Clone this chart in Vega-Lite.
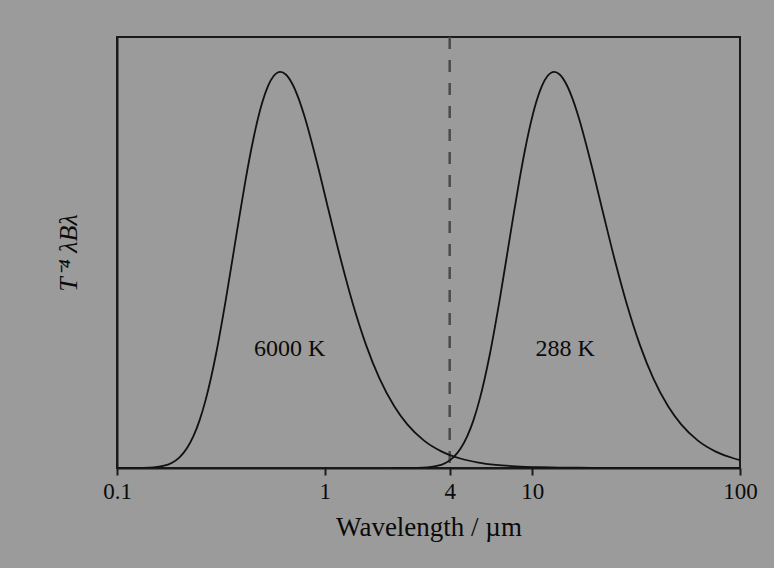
{
  "$schema": "https://vega.github.io/schema/vega-lite/v6.json",
  "width": 623,
  "height": 431,
  "autosize": {"type": "none"},
  "padding": {"left": 117, "top": 37, "right": 34, "bottom": 100},
  "background": "#9b9b9b",
  "config": {
    "view": {"stroke": "#1a1a1a", "strokeWidth": 2},
    "font": "Liberation Serif",
    "axis": {"grid": false, "domainColor": "#1a1a1a", "domainWidth": 2, "tickColor": "#1a1a1a", "tickWidth": 2, "labelColor": "#0a0a0a", "titleColor": "#0a0a0a", "labelFont": "Liberation Serif", "titleFont": "Liberation Serif", "titleFontWeight": "normal"}
  },
  "datasets": {
    "curves": [
      {"lam": 0.1, "v": 0.0000027, "T": "6000 K"},
      {"lam": 0.11667, "v": 0.0000442, "T": "6000 K"},
      {"lam": 0.13333, "v": 0.000338, "T": "6000 K"},
      {"lam": 0.15, "v": 0.001558, "T": "6000 K"},
      {"lam": 0.16667, "v": 0.005058, "T": "6000 K"},
      {"lam": 0.18333, "v": 0.01278, "T": "6000 K"},
      {"lam": 0.2, "v": 0.02683, "T": "6000 K"},
      {"lam": 0.21667, "v": 0.04898, "T": "6000 K"},
      {"lam": 0.23333, "v": 0.0803, "T": "6000 K"},
      {"lam": 0.25, "v": 0.1209, "T": "6000 K"},
      {"lam": 0.26667, "v": 0.1701, "T": "6000 K"},
      {"lam": 0.3, "v": 0.2885, "T": "6000 K"},
      {"lam": 0.33333, "v": 0.4212, "T": "6000 K"},
      {"lam": 0.36667, "v": 0.5536, "T": "6000 K"},
      {"lam": 0.39167, "v": 0.6461, "T": "6000 K"},
      {"lam": 0.41667, "v": 0.729, "T": "6000 K"},
      {"lam": 0.44167, "v": 0.8008, "T": "6000 K"},
      {"lam": 0.46667, "v": 0.8606, "T": "6000 K"},
      {"lam": 0.5, "v": 0.9223, "T": "6000 K"},
      {"lam": 0.53333, "v": 0.9642, "T": "6000 K"},
      {"lam": 0.56667, "v": 0.989, "T": "6000 K"},
      {"lam": 0.61167, "v": 1.0, "T": "6000 K"},
      {"lam": 0.65, "v": 0.9934, "T": "6000 K"},
      {"lam": 0.7, "v": 0.9687, "T": "6000 K"},
      {"lam": 0.75, "v": 0.9317, "T": "6000 K"},
      {"lam": 0.8, "v": 0.8873, "T": "6000 K"},
      {"lam": 0.91667, "v": 0.7726, "T": "6000 K"},
      {"lam": 1.05, "v": 0.6457, "T": "6000 K"},
      {"lam": 1.2, "v": 0.5232, "T": "6000 K"},
      {"lam": 1.36667, "v": 0.4147, "T": "6000 K"},
      {"lam": 1.58333, "v": 0.3103, "T": "6000 K"},
      {"lam": 1.83333, "v": 0.2269, "T": "6000 K"},
      {"lam": 2.16667, "v": 0.15505, "T": "6000 K"},
      {"lam": 2.5, "v": 0.11003, "T": "6000 K"},
      {"lam": 3.0, "v": 0.06977, "T": "6000 K"},
      {"lam": 3.66667, "v": 0.04145, "T": "6000 K"},
      {"lam": 4.5, "v": 0.02397, "T": "6000 K"},
      {"lam": 5.5, "v": 0.01383, "T": "6000 K"},
      {"lam": 6.66667, "v": 0.00809, "T": "6000 K"},
      {"lam": 8.33333, "v": 0.0043, "T": "6000 K"},
      {"lam": 10.8333, "v": 0.00203, "T": "6000 K"},
      {"lam": 13.3333, "v": 0.00111, "T": "6000 K"},
      {"lam": 16.6667, "v": 0.00058, "T": "6000 K"},
      {"lam": 25.0, "v": 0.000176, "T": "6000 K"},
      {"lam": 41.6667, "v": 0.000039, "T": "6000 K"},
      {"lam": 100.0, "v": 0.0000029, "T": "6000 K"},
      {"lam": 2.0833, "v": 0.0000027, "T": "288 K"},
      {"lam": 2.4306, "v": 0.0000442, "T": "288 K"},
      {"lam": 2.7778, "v": 0.000338, "T": "288 K"},
      {"lam": 3.125, "v": 0.001558, "T": "288 K"},
      {"lam": 3.4722, "v": 0.005058, "T": "288 K"},
      {"lam": 3.8194, "v": 0.01278, "T": "288 K"},
      {"lam": 4.1667, "v": 0.02683, "T": "288 K"},
      {"lam": 4.5139, "v": 0.04898, "T": "288 K"},
      {"lam": 4.8611, "v": 0.0803, "T": "288 K"},
      {"lam": 5.2083, "v": 0.1209, "T": "288 K"},
      {"lam": 5.5556, "v": 0.1701, "T": "288 K"},
      {"lam": 6.25, "v": 0.2885, "T": "288 K"},
      {"lam": 6.9444, "v": 0.4212, "T": "288 K"},
      {"lam": 7.6389, "v": 0.5536, "T": "288 K"},
      {"lam": 8.1597, "v": 0.6461, "T": "288 K"},
      {"lam": 8.6806, "v": 0.729, "T": "288 K"},
      {"lam": 9.2014, "v": 0.8008, "T": "288 K"},
      {"lam": 9.7222, "v": 0.8606, "T": "288 K"},
      {"lam": 10.4167, "v": 0.9223, "T": "288 K"},
      {"lam": 11.1111, "v": 0.9642, "T": "288 K"},
      {"lam": 11.8056, "v": 0.989, "T": "288 K"},
      {"lam": 12.743, "v": 1.0, "T": "288 K"},
      {"lam": 13.5417, "v": 0.9934, "T": "288 K"},
      {"lam": 14.5833, "v": 0.9687, "T": "288 K"},
      {"lam": 15.625, "v": 0.9317, "T": "288 K"},
      {"lam": 16.6667, "v": 0.8873, "T": "288 K"},
      {"lam": 19.0972, "v": 0.7726, "T": "288 K"},
      {"lam": 21.875, "v": 0.6457, "T": "288 K"},
      {"lam": 25.0, "v": 0.5232, "T": "288 K"},
      {"lam": 28.4722, "v": 0.4147, "T": "288 K"},
      {"lam": 32.9861, "v": 0.3103, "T": "288 K"},
      {"lam": 38.1944, "v": 0.2269, "T": "288 K"},
      {"lam": 45.1389, "v": 0.15505, "T": "288 K"},
      {"lam": 52.0833, "v": 0.11003, "T": "288 K"},
      {"lam": 62.5, "v": 0.06977, "T": "288 K"},
      {"lam": 76.3889, "v": 0.04145, "T": "288 K"},
      {"lam": 93.75, "v": 0.02397, "T": "288 K"},
      {"lam": 100.0, "v": 0.02011, "T": "288 K"}
    ],
    "labels": [
      {"lam": 0.678, "v": 0.3, "label": "6000 K"},
      {"lam": 14.4, "v": 0.3, "label": "288 K"}
    ],
    "divider": [{"lam": 4}]
  },
  "layer": [
    {
      "data": {"name": "divider"},
      "mark": {"type": "rule", "color": "#4a4a4a", "strokeWidth": 2.5, "strokeDash": [12, 11]},
      "encoding": {
        "x": {"field": "lam", "type": "quantitative", "scale": {"type": "log", "domain": [0.1, 100], "nice": false}}
      }
    },
    {
      "data": {"name": "curves"},
      "mark": {"type": "line", "strokeWidth": 1.8, "interpolate": "monotone", "clip": true},
      "encoding": {
        "x": {
          "field": "lam", "type": "quantitative",
          "scale": {"type": "log", "domain": [0.1, 100], "nice": false},
          "axis": {"values": [0.1, 1, 4, 10, 100], "format": "~g", "title": "Wavelength / µm", "tickSize": 7, "labelPadding": 5, "labelFontSize": 23, "titleFontSize": 27, "titlePadding": 11, "labelFlush": false}
        },
        "y": {
          "field": "v", "type": "quantitative",
          "scale": {"domain": [0, 1.088], "nice": false},
          "axis": {"title": "T⁻⁴ λBλ", "labels": false, "ticks": false, "titleFontSize": 26, "titleFontStyle": "italic", "titlePadding": 36}
        },
        "detail": {"field": "T", "type": "nominal"},
        "color": {"value": "#111111"}
      }
    },
    {
      "data": {"name": "labels"},
      "mark": {"type": "text", "fontSize": 24, "font": "Liberation Serif", "color": "#0a0a0a", "baseline": "middle", "align": "center"},
      "encoding": {
        "x": {"field": "lam", "type": "quantitative"},
        "y": {"field": "v", "type": "quantitative"},
        "text": {"field": "label", "type": "nominal"}
      }
    }
  ]
}
